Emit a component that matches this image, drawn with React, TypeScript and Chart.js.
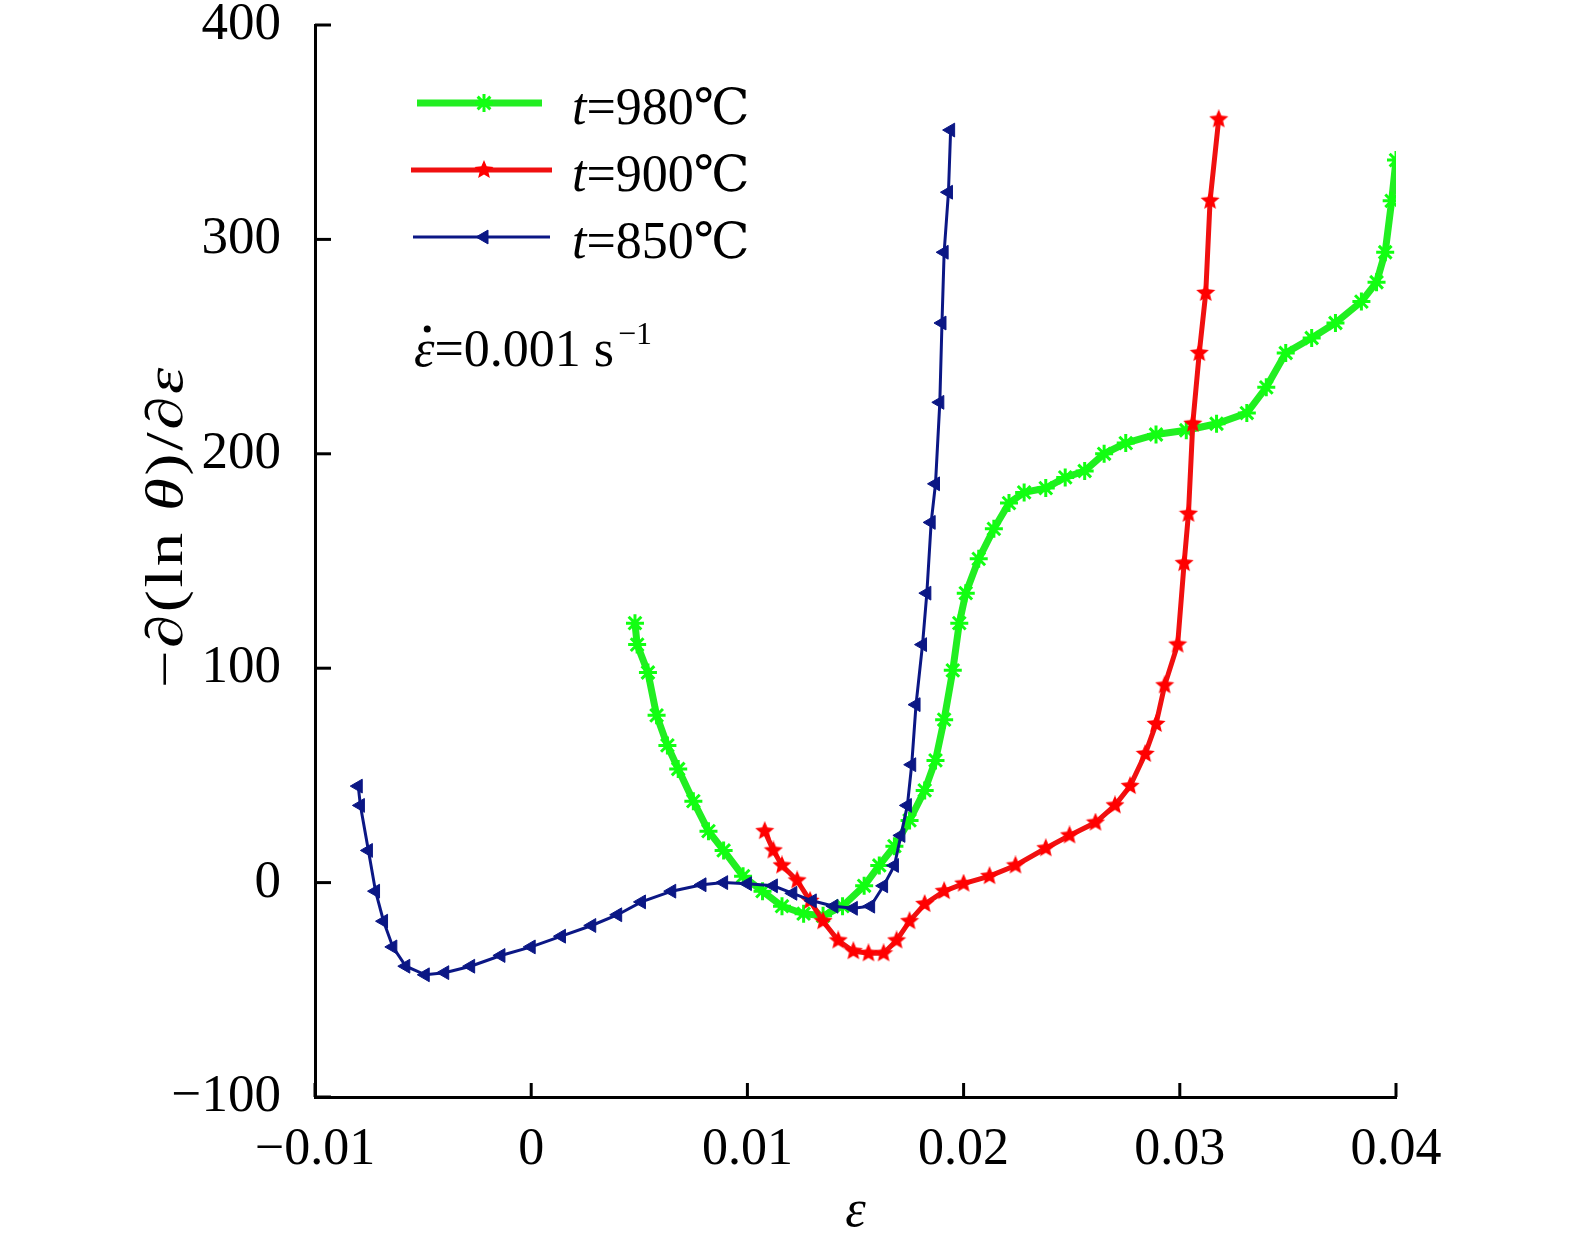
import { useEffect, useRef } from 'react';
import { Chart, registerables } from 'chart.js';
import { drawPoint } from 'chart.js/helpers';

Chart.register(...registerables);

// t = 850 ℃
const blueX = [-0.008, -0.0079, -0.00753, -0.0072, -0.00683, -0.0064, -0.0058, -0.0049, -0.004, -0.0028, -0.0014, 0.0, 0.0014, 0.0028, 0.004, 0.0051, 0.0065, 0.0079, 0.0089, 0.01, 0.0112, 0.0121, 0.013, 0.014, 0.0149, 0.0157, 0.0163, 0.0168, 0.0171, 0.0174, 0.0176, 0.0178, 0.0181, 0.0183, 0.0185, 0.0187, 0.0189, 0.019, 0.0191, 0.0193, 0.0194];
const blueY = [45, 36, 15, -4, -18, -30, -39, -43, -42, -39, -34, -30, -25, -20, -15, -9, -4, -1, 0, -0.5, -1.5, -5, -8.5, -11, -12, -11, -1.5, 8, 22, 36, 55, 83, 111, 135, 168, 186, 224, 261, 294, 322, 351];

// t = 900 ℃
const redX = [0.0108, 0.0112, 0.0116, 0.0123, 0.0129, 0.0135, 0.0142, 0.0149, 0.0156, 0.0163, 0.0169, 0.0175, 0.0182, 0.0191, 0.02, 0.0212, 0.0224, 0.0238, 0.0249, 0.0261, 0.027, 0.0277, 0.0284, 0.0289, 0.0293, 0.0299, 0.0302, 0.0304, 0.0306, 0.0309, 0.0312, 0.0314, 0.0318];
const redY = [24, 15, 8, 1, -8.5, -18, -27, -32, -33, -33, -27, -18, -10, -4, -0.5, 3, 8, 16, 22, 28, 36, 45, 60, 74, 92, 111, 149, 172, 214, 247, 275, 318, 356];

// t = 980 ℃
const greenX = [0.0048, 0.0049, 0.0054, 0.0058, 0.0063, 0.0068, 0.0075, 0.0082, 0.0089, 0.0098, 0.0107, 0.0116, 0.0126, 0.0135, 0.0144, 0.0154, 0.0161, 0.0168, 0.0175, 0.0182, 0.0187, 0.0191, 0.0195, 0.0198, 0.0201, 0.0207, 0.0214, 0.0221, 0.0228, 0.0238, 0.0247, 0.0256, 0.0265, 0.0275, 0.0289, 0.0303, 0.0317, 0.0331, 0.034, 0.0349, 0.0361, 0.0372, 0.0384, 0.0391, 0.0395, 0.0398, 0.04];
const greenY = [121, 111, 98, 78, 64, 53, 38, 24, 15, 3, -4, -11, -14.5, -15.5, -11, -1.5, 8, 17, 29, 43, 57, 76, 99, 121, 135, 151, 165, 177, 182, 184, 189, 192, 200, 205, 209, 211, 214, 219, 231, 247, 254, 261, 271, 280, 294, 318, 337];

const legendLabels = ['980', '900', '850'];

const FONT = '"Liberation Serif", "Times New Roman", serif';
const SYM = '"DejaVu Serif", "Noto Sans CJK SC", serif';

const toPoints = (xs: number[], ys: number[]) => xs.map((x, i) => ({ x, y: ys[i] }));

const fmt = (v: number) => String(Number(v.toFixed(3))).replace('-', '\u2212');

function makeStar(color: string, size: number) {
  const c = document.createElement('canvas');
  c.width = size;
  c.height = size;
  const ctx = c.getContext('2d')!;
  const r = size / 2;
  ctx.fillStyle = color;
  ctx.beginPath();
  for (let i = 0; i < 10; i++) {
    const rad = i % 2 === 0 ? r : r * 0.45;
    const a = -Math.PI / 2 + (i * Math.PI) / 5;
    const px = r + rad * Math.cos(a);
    const py = r + rad * Math.sin(a);
    if (i === 0) ctx.moveTo(px, py);
    else ctx.lineTo(px, py);
  }
  ctx.closePath();
  ctx.fill();
  return c;
}

type Seg = { t: string; it?: boolean; font?: string; size?: number };

function segFont(s: Seg, size: number) {
  return `${s.it ? 'italic ' : ''}${s.size || size}px ${s.font || FONT}`;
}

function measureSegments(ctx: CanvasRenderingContext2D, segs: Seg[], size: number) {
  return segs.map((s) => {
    ctx.font = segFont(s, size);
    return ctx.measureText(s.t).width;
  });
}

function drawSegments(ctx: CanvasRenderingContext2D, segs: Seg[], size: number, x: number, y: number, align: 'left' | 'center') {
  const widths = measureSegments(ctx, segs, size);
  const total = widths.reduce((a, b) => a + b, 0);
  let cx = align === 'center' ? x - total / 2 : x;
  ctx.textAlign = 'left';
  ctx.textBaseline = 'alphabetic';
  segs.forEach((s, i) => {
    ctx.font = segFont(s, size);
    ctx.fillText(s.t, cx, y);
    cx += widths[i];
  });
  return cx;
}

const extrasPlugin = {
  id: 'extras',
  afterDraw(chart: any) {
    const ctx: CanvasRenderingContext2D = chart.ctx;
    const { left, bottom } = chart.chartArea;
    const xs = chart.scales.x;
    const ys = chart.scales.y;
    ctx.save();
    // inner ticks
    ctx.strokeStyle = '#000';
    ctx.lineWidth = 3;
    xs.ticks.forEach((t: any) => {
      const px = xs.getPixelForValue(t.value);
      ctx.beginPath();
      ctx.moveTo(px, bottom);
      ctx.lineTo(px, bottom - 14);
      ctx.stroke();
    });
    ys.ticks.forEach((t: any) => {
      const py = ys.getPixelForValue(t.value);
      ctx.beginPath();
      ctx.moveTo(left, py);
      ctx.lineTo(left + 16, py);
      ctx.stroke();
    });

    ctx.fillStyle = '#000';
    // x title
    drawSegments(ctx, [{ t: '\u03b5', it: true }], 52, xs.getPixelForValue(0.015), 1226, 'center');

    // y title (the source figure has it stretched along its length)
    const ySegs: Seg[] = [{ t: '\u2212\u2202(ln ' }, { t: '\u03b8', it: true }, { t: ')/\u2202' }, { t: '\u03b5', it: true }];
    ctx.save();
    (ctx as any).letterSpacing = '2px';
    const yw = measureSegments(ctx, ySegs, 52).reduce((a, b) => a + b, 0);
    ctx.translate(182, ys.getPixelForValue(166));
    ctx.rotate(-Math.PI / 2);
    ctx.scale(323 / yw, 1);
    drawSegments(ctx, ySegs, 52, 0, 0, 'center');
    ctx.restore();

    // legend
    const order = [2, 1, 0];
    const lineSpan = [
      [417, 542],
      [411, 552],
      [413, 550],
    ];
    order.forEach((di, row) => {
      const ds = chart.data.datasets[di];
      const ly = 103 + row * 67;
      ctx.strokeStyle = ds.borderColor;
      ctx.lineWidth = ds.borderWidth;
      ctx.beginPath();
      ctx.moveTo(lineSpan[row][0], ly);
      ctx.lineTo(lineSpan[row][1], ly);
      ctx.stroke();
      ctx.fillStyle = ds.pointBackgroundColor;
      ctx.strokeStyle = ds.pointBorderColor;
      ctx.lineWidth = ds.pointBorderWidth;
      drawPoint(ctx, { pointStyle: ds.pointStyle, radius: ds.pointRadius, rotation: ds.pointRotation || 0, borderWidth: ds.pointBorderWidth }, 484, ly);
      ctx.fillStyle = '#000';
      drawSegments(
        ctx,
        [{ t: 't', it: true }, { t: '=' + legendLabels[row] }, { t: '\u2103', font: SYM, size: 50 }],
        52,
        572,
        ly + 21,
        'left'
      );
    });

    // rate annotation
    ctx.fillStyle = '#000';
    ctx.font = `italic 52px ${FONT}`;
    const ew = ctx.measureText('\u03b5').width;
    const endX = drawSegments(ctx, [{ t: '\u03b5', it: true }, { t: '=0.001 s' }], 52, 414, 366, 'left');
    ctx.beginPath();
    ctx.arc(414 + ew / 2 + 3, 329, 3.5, 0, Math.PI * 2);
    ctx.fill();
    ctx.font = `32px ${FONT}`;
    ctx.fillText('\u22121', endX + 4, 344);
    ctx.restore();
  },
};

const App = () => {
  const chartRef = useRef<HTMLCanvasElement>(null);
  const chartInstance = useRef<Chart | null>(null);

  useEffect(() => {
    if (!chartRef.current) return;
    if (chartInstance.current) chartInstance.current.destroy();

    const redStar = makeStar('#ff0000', 20);

    chartInstance.current = new Chart(chartRef.current, {
      type: 'line',
      data: {
        datasets: [
          {
            label: 't=850℃',
            data: toPoints(blueX, blueY),
            borderColor: '#0b1785',
            borderWidth: 3,
            pointStyle: 'triangle',
            pointRotation: -90,
            pointRadius: 8,
            pointBackgroundColor: '#0b1785',
            pointBorderColor: '#0b1785',
            pointBorderWidth: 1,
            tension: 0,
          },
          {
            label: 't=900℃',
            data: toPoints(redX, redY),
            borderColor: '#f01010',
            borderWidth: 5,
            pointStyle: redStar,
            pointRadius: 10,
            pointBackgroundColor: '#ff0000',
            pointBorderColor: '#ff0000',
            pointBorderWidth: 1,
            tension: 0,
          },
          {
            label: 't=980℃',
            data: toPoints(greenX, greenY),
            borderColor: '#22ee22',
            borderWidth: 7,
            pointStyle: 'star',
            pointRadius: 9,
            pointBackgroundColor: '#11ff11',
            pointBorderColor: '#11ff11',
            pointBorderWidth: 3,
            tension: 0,
          },
        ] as any,
      },
      options: {
        animation: false,
        responsive: false,
        devicePixelRatio: 1,
        layout: { padding: { left: 0, right: 179, top: 25, bottom: 0 } },
        plugins: { legend: { display: false }, tooltip: { enabled: false } },
        scales: {
          x: {
            type: 'linear',
            min: -0.01,
            max: 0.04,
            ticks: {
              stepSize: 0.01,
              color: '#000',
              font: { family: FONT, size: 52 },
              padding: 22,
              maxRotation: 0,
              callback: (v: any) => fmt(Number(v)),
            },
            grid: { display: true, drawOnChartArea: false, drawTicks: false },
            border: { display: true, color: '#000', width: 3 },
            afterFit: (s: any) => {
              s.height = 152;
              s.paddingLeft = 0;
              s.paddingRight = 0;
            },
          },
          y: {
            type: 'linear',
            min: -100,
            max: 400,
            ticks: {
              stepSize: 100,
              color: '#000',
              font: { family: FONT, size: 53 },
              padding: 34,
              callback: (v: any) => fmt(Number(v)),
            },
            grid: { display: true, drawOnChartArea: false, drawTicks: false },
            border: { display: true, color: '#000', width: 3 },
            afterFit: (s: any) => {
              s.width = 315;
              s.paddingTop = 0;
              s.paddingBottom = 0;
            },
          },
        },
      },
      plugins: [extrasPlugin],
    });

    return () => {
      if (chartInstance.current) {
        chartInstance.current.destroy();
        chartInstance.current = null;
      }
    };
  }, []);

  return (
    <div style={{ position: 'absolute', left: 0, top: 0, width: 1575, height: 1249, background: '#fff' }}>
      <canvas ref={chartRef} width={1575} height={1249} style={{ width: 1575, height: 1249, display: 'block' }} />
    </div>
  );
};

export default App;
